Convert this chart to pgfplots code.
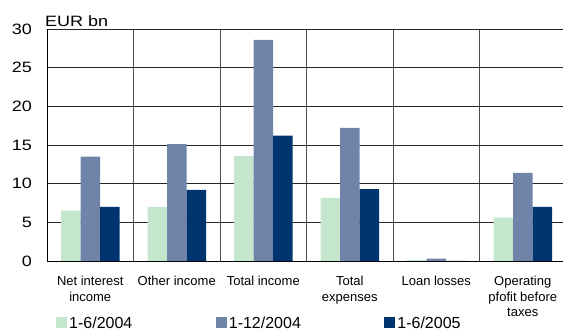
\documentclass[border=0pt]{standalone}
\usepackage{fontspec}
\setmainfont{Liberation Sans}
\newfontfamily\widefont[FakeStretch=1.2]{Liberation Sans}
\usepackage{pgfplots}
\pgfplotsset{compat=1.18}
\definecolor{cA}{HTML}{C3E6CD}
\definecolor{cB}{HTML}{7083A9}
\definecolor{cC}{HTML}{00346F}
\pgfplotsset{sq/.style={legend image code/.code={\fill[##1,draw=none] (0pt,-5.5pt) rectangle (11pt,5.5pt);}}}
\begin{document}
\begin{tikzpicture}
\begin{axis}[
  at={(0,0)}, anchor=south west,
  scale only axis, width=516pt, height=232pt,
  xmin=-0.5, xmax=5.465, ymin=0, ymax=30,
  ybar=0pt, bar width=19.5pt,
  clip=false,
  axis x line*=bottom, axis y line*=left,
  x axis line style={-, black, line width=0.9pt},
  y axis line style={-, black, line width=0.9pt},
  xtick={0,...,5},
  xticklabels={{Net interest\\income},{Other income},{Total income},{Total\\expenses},{Loan losses},{Operating\\pfofit before\\taxes}},
  xticklabel style={align=center, inner sep=0pt, yshift=-15pt, font=\fontsize{13}{15.5}\selectfont},
  minor xtick={0.5,1.5,2.5,3.5,4.5},
  xmajorgrids=false, xminorgrids=true, ymajorgrids=true,
  major grid style={black!85, line width=0.8pt},
  minor grid style={black!70, line width=0.8pt},
  major tick length=0pt, minor tick length=0pt,
  ytick={0,5,...,30},
  yticklabel style={inner sep=0pt, xshift=-15pt, font=\widefont\fontsize{15}{15}\selectfont},
  /pgf/number format/assume math mode=true,
  legend columns=3,
  legend style={at={(rel axis cs:0,0)}, anchor=west, xshift=9pt, yshift=-62pt,
    draw=none, fill=none, inner sep=0pt, font=\fontsize{16}{16}\selectfont,
    /tikz/every even column/.append style={column sep=81.5pt}},
  legend cell align=left,
]
\addplot[fill=cA, draw=none, sq] coordinates {(0,6.5) (1,7.0) (2,13.6) (3,8.15) (4,0.13) (5,5.6)};
\addplot[fill=cB, draw=none, sq] coordinates {(0,13.5) (1,15.1) (2,28.6) (3,17.2) (4,0.3) (5,11.4)};
\addplot[fill=cC, draw=none, sq] coordinates {(0,7.0) (1,9.2) (2,16.2) (3,9.3) (4,0.0) (5,7.0)};
\legend{1-6/2004,1-12/2004,1-6/2005}
\node[anchor=base west, inner sep=0pt, font=\widefont\fontsize{15}{15}\selectfont] at (rel axis cs:0,1) [xshift=-2pt, yshift=2.5pt] {EUR bn};
\end{axis}
\pgfresetboundingbox
\path[use as bounding box] (-47pt,-71pt) rectangle (516pt,261pt);
\end{tikzpicture}
\end{document}
